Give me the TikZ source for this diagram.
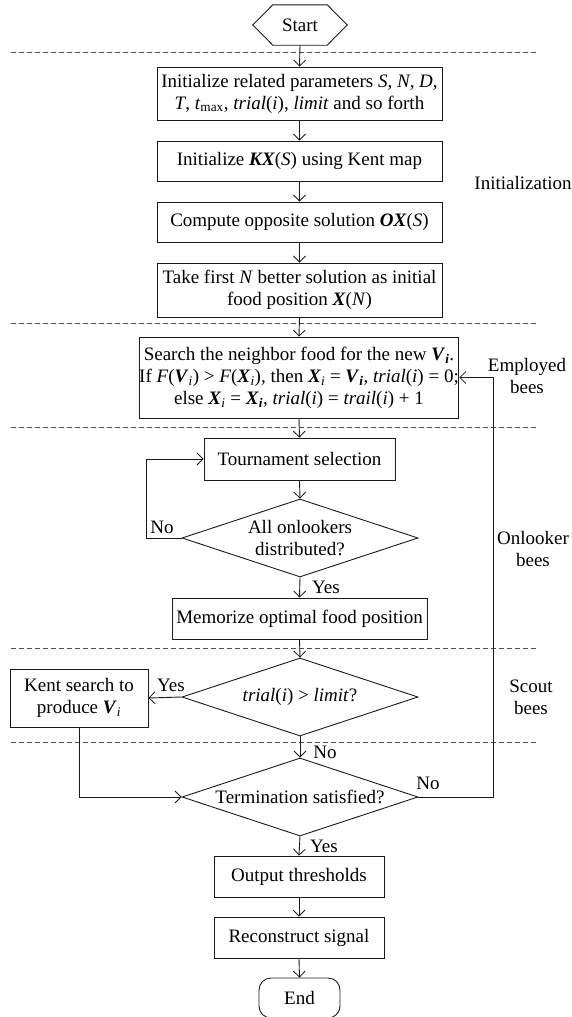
\documentclass[tikz,border=0pt]{standalone}
\usepackage{fontspec}
\setmainfont{Liberation Serif}
\usetikzlibrary{arrows.meta,shapes.geometric}
\newcommand{\bfit}[1]{\textbf{\textit{#1}}}
\newcommand{\subi}{\textsubscript{\textit{i}}}
\definecolor{ink}{HTML}{1A1A1A}
\definecolor{sepgray}{HTML}{505050}
\begin{document}
\begin{tikzpicture}[x=1pt,y=-1pt,
  font=\fontsize{19}{22}\selectfont,
  line/.style={draw=ink, line width=0.9pt},
  arr/.style={line, -{Straight Barb[length=6pt,width=12pt,line width=0.8pt]}},
  box/.style={line, rectangle, inner sep=0pt, align=center},
  dec/.style={line, diamond, inner sep=0pt, minimum width=236pt, minimum height=78pt},
  sep/.style={draw=sepgray, line width=0.8pt, dash pattern=on 5pt off 3pt},
  lbl/.style={inner sep=0pt, align=center}]
\useasboundingbox (0,0) rectangle (571,1017);

% separators
\draw[sep] (11,52) -- (537,52);
\draw[sep] (11,323) -- (537,323);
\draw[sep] (11,427) -- (537,427);
\draw[sep] (11,648) -- (537,648);
\draw[sep] (11,742) -- (537,742);

% start hexagon
\node[lbl, minimum width=94pt, minimum height=40pt] (start) at (300,25) {Start};
\draw[line] (start.west) -- ([xshift=20pt]start.north west) -- ([xshift=-20pt]start.north east)
  -- (start.east) -- ([xshift=-20pt]start.south east) -- ([xshift=20pt]start.south west) -- cycle;

\node[box, minimum width=285pt, minimum height=53pt] (b1) at (299.5,93.5)
  {Initialize related parameters \textit{S}, \textit{N}, \textit{D},\\
   \textit{T}, \textit{t}\textsubscript{max}, \textit{trial}(\textit{i}), \textit{limit} and so forth};
\node[box, minimum width=285pt, minimum height=40pt] (b2) at (299.5,161)
  {Initialize \bfit{KX}(\textit{S}) using Kent map};
\node[box, minimum width=285pt, minimum height=40pt] (b3) at (299.5,222)
  {Compute opposite solution \bfit{OX}(\textit{S})};
\node[box, minimum width=285pt, minimum height=54pt] (b4) at (299.5,290)
  {Take first \textit{N} better solution as initial\\ food position \bfit{X}(\textit{N})};
\node[box, minimum width=318pt, minimum height=81pt] (b5) at (299,377.5)
  {Search the neighbor food for the new \bfit{V}\textsubscript{\bfit{i}}.\\
   If \textit{F}(\bfit{V}\subi) > \textit{F}(\bfit{X}\subi), then \bfit{X}\subi{} = \bfit{V}\textsubscript{\bfit{i}}, \textit{trial}(\textit{i}) = 0;\\
   else \bfit{X}\subi{} = \bfit{X}\textsubscript{\bfit{i}}, \textit{trial}(\textit{i}) = \textit{trail}(\textit{i}) + 1};
\node[box, minimum width=191pt, minimum height=42pt] (tour) at (299.5,459) {Tournament selection};
\node[dec, label={[lbl]center:{All onlookers\\distributed?}}] (d1) at (300,538) {};
\node[box, minimum width=255pt, minimum height=41pt] (mem) at (299.5,618.5) {Memorize optimal food position};
\node[dec, label={[lbl]center:{\textit{trial}(\textit{i}) > \textit{limit}?}}] (d2) at (300,697) {};
\node[box, minimum width=138pt, minimum height=58pt] (kent) at (79,698) {Kent search to\\ produce \bfit{V}\subi};
\node[dec, label={[lbl]center:{Termination satisfied?}}] (d3) at (300,797) {};
\node[box, minimum width=170pt, minimum height=41pt] (out) at (299,876.5) {Output thresholds};
\node[box, minimum width=170pt, minimum height=41pt] (rec) at (299,937.5) {Reconstruct signal};
\node[box, rounded corners=12pt, minimum width=81pt, minimum height=40pt] (end) at (299.5,998) {End};

% connectors
\draw[arr] (start.south) -- (b1.north);
\draw[arr] (b1.south) -- (b2.north);
\draw[arr] (b2.south) -- (b3.north);
\draw[arr] (b3.south) -- (b4.north);
\draw[arr] (b4.south) -- (b5.north);
\draw[arr] (b5.south) -- (tour.north);
\draw[arr] (tour.south) -- (d1.north);
\draw[arr] (d1.west) -- ++(-35,0) |- (tour.west);
\draw[arr] (d1.south) -- (mem.north);
\draw[arr] (mem.south) -- (d2.north);
\draw[arr] (d2.west) -- (kent.east);
\draw[arr] (d2.south) -- (d3.north);
\draw[arr] (kent.south) |- (d3.west);
\draw[arr] (d3.east) -- ++(75,0) |- (b5.east);
\draw[arr] (d3.south) -- (out.north);
\draw[arr] (out.south) -- (rec.north);
\draw[arr] (rec.south) -- (end.north);

% connector labels
\node[lbl] (no1) at (162,527) {No};
\node[lbl] (yes1) at (326,587) {Yes};
\node[lbl] (yes2) at (171,685) {Yes};
\node[lbl] (no2) at (325,752) {No};
\node[lbl] (no3) at (428,783) {No};
\node[lbl] (yes3) at (324,846) {Yes};

% phase labels
\node[lbl] (init) at (523,183) {Initialization};
\node[lbl] (emp) at (527,376) {Employed\\bees};
\node[lbl] (onl) at (533,549) {Onlooker\\bees};
\node[lbl] (sct) at (531,697) {Scout\\bees};
\end{tikzpicture}
\end{document}
